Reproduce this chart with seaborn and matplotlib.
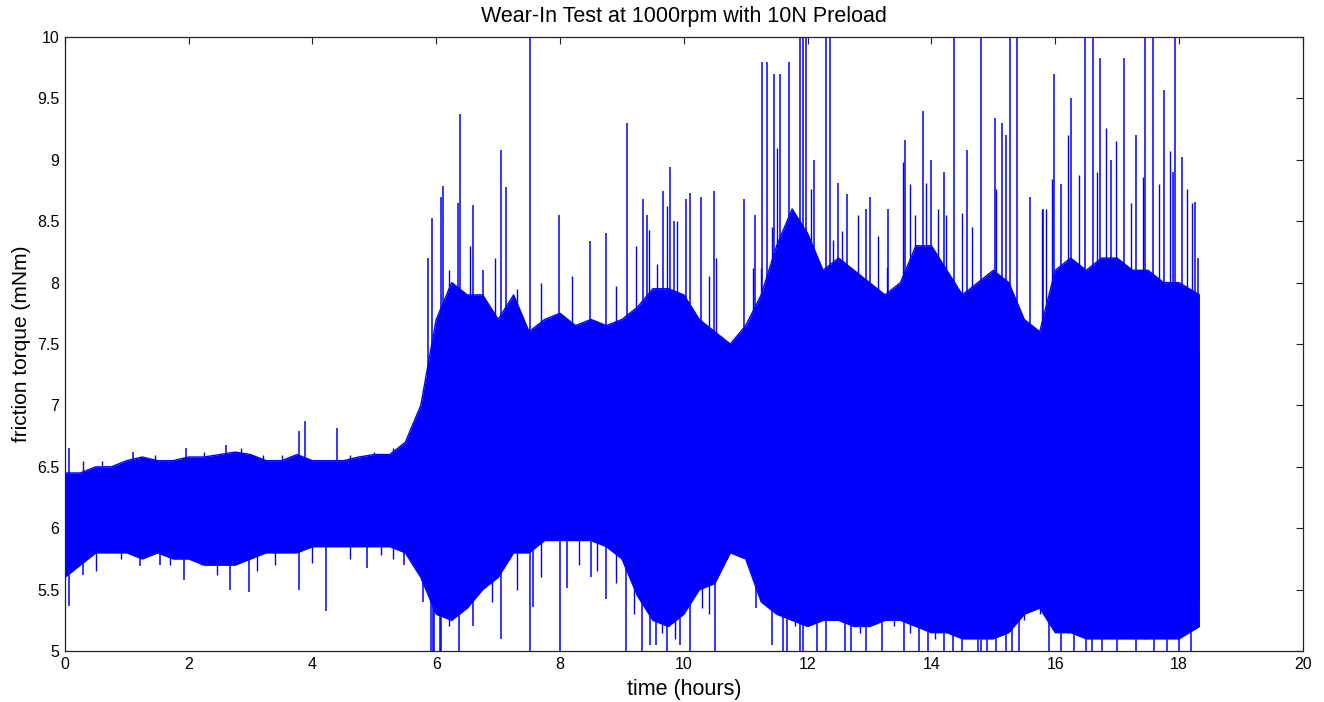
import numpy as np
import pandas as pd
import matplotlib
matplotlib.use("Agg")
import matplotlib.pyplot as plt
import seaborn as sns

# -------------------------------------------------------------
# data (friction torque, mNm)
# -------------------------------------------------------------
t_grid = [0.0, 0.25, 0.5, 0.75, 1.0, 1.25, 1.5, 1.75, 2.0, 2.25, 2.5, 2.75,
          3.0, 3.25, 3.5, 3.75, 4.0, 4.25, 4.5, 4.75, 5.0, 5.25, 5.5, 5.75,
          6.0, 6.25, 6.5, 6.75, 7.0, 7.25, 7.5, 7.75, 8.0, 8.25, 8.5, 8.75,
          9.0, 9.25, 9.5, 9.75, 10.0, 10.25, 10.5, 10.75, 11.0, 11.25, 11.5,
          11.75, 12.0, 12.25, 12.5, 12.75, 13.0, 13.25, 13.5, 13.75, 14.0,
          14.25, 14.5, 14.75, 15.0, 15.25, 15.5, 15.75, 16.0, 16.25, 16.5,
          16.75, 17.0, 17.25, 17.5, 17.75, 18.0, 18.33]

# solid core of the trace
core_hi = [6.30, 6.30, 6.35, 6.38, 6.40, 6.42, 6.42, 6.43, 6.45, 6.45, 6.47, 6.50,
           6.48, 6.42, 6.42, 6.42, 6.42, 6.42, 6.42, 6.45, 6.45, 6.45, 6.50, 6.75,
           7.20, 7.50, 7.60, 7.50, 7.20, 7.55, 7.25, 7.30, 7.40, 7.35, 7.35, 7.30,
           7.35, 7.40, 7.50, 7.55, 7.50, 7.30, 7.20, 7.20, 7.30, 7.50, 7.80,
           8.00, 7.90, 7.60, 7.70, 7.60, 7.50, 7.40, 7.40, 7.65, 7.70,
           7.60, 7.50, 7.50, 7.55, 7.50, 7.35, 7.30, 7.55, 7.60, 7.55,
           7.60, 7.60, 7.60, 7.55, 7.50, 7.50, 7.45]
core_lo = [5.75, 5.85, 5.90, 5.95, 5.95, 5.95, 5.95, 5.92, 5.90, 5.88, 5.85, 5.85,
           5.90, 5.95, 5.95, 5.95, 6.00, 6.00, 6.00, 6.00, 6.05, 6.05, 6.05, 5.90,
           5.55, 5.50, 5.60, 5.70, 5.85, 6.10, 6.10, 6.20, 6.25, 6.25, 6.20, 6.20,
           6.10, 5.85, 5.60, 5.50, 5.55, 5.80, 5.85, 6.05, 6.00, 5.75, 5.60,
           5.50, 5.50, 5.50, 5.50, 5.45, 5.45, 5.50, 5.50, 5.45, 5.40,
           5.40, 5.35, 5.35, 5.35, 5.40, 5.55, 5.60, 5.40, 5.40, 5.40,
           5.35, 5.35, 5.35, 5.35, 5.35, 5.35, 5.40]

# outer extent of the dense fuzz around the core
fuzz_hi = [6.45, 6.45, 6.50, 6.50, 6.55, 6.58, 6.55, 6.55, 6.58, 6.58, 6.60, 6.62,
           6.60, 6.55, 6.55, 6.60, 6.55, 6.55, 6.55, 6.58, 6.60, 6.60, 6.70, 7.00,
           7.70, 8.00, 7.90, 7.90, 7.70, 7.90, 7.60, 7.70, 7.75, 7.65, 7.70, 7.65,
           7.70, 7.80, 7.95, 7.95, 7.90, 7.70, 7.60, 7.50, 7.65, 7.90, 8.30,
           8.60, 8.40, 8.10, 8.20, 8.10, 8.00, 7.90, 8.00, 8.30, 8.30,
           8.10, 7.90, 8.00, 8.10, 8.00, 7.70, 7.60, 8.10, 8.20, 8.10,
           8.20, 8.20, 8.10, 8.10, 8.00, 8.00, 7.90]
fuzz_lo = [5.60, 5.70, 5.80, 5.80, 5.80, 5.75, 5.80, 5.75, 5.75, 5.70, 5.70, 5.70,
           5.75, 5.80, 5.80, 5.80, 5.85, 5.85, 5.85, 5.85, 5.85, 5.85, 5.80, 5.60,
           5.30, 5.25, 5.35, 5.50, 5.60, 5.80, 5.80, 5.90, 5.90, 5.90, 5.90, 5.85,
           5.75, 5.45, 5.25, 5.20, 5.30, 5.50, 5.55, 5.80, 5.75, 5.40, 5.30,
           5.25, 5.20, 5.25, 5.25, 5.20, 5.20, 5.25, 5.25, 5.20, 5.15,
           5.15, 5.10, 5.10, 5.10, 5.15, 5.30, 5.35, 5.15, 5.15, 5.10,
           5.10, 5.10, 5.10, 5.10, 5.10, 5.10, 5.20]

# tall isolated peaks above the band
up_t = [0.07, 1.10, 1.95, 2.60, 3.78, 3.88, 4.39, 5.60, 5.68, 5.86, 5.93, 6.08,
        6.11, 6.35, 6.39, 6.60, 6.75, 7.05, 7.12, 7.52, 7.99, 8.48, 8.74, 9.08,
        9.34, 9.40, 9.66, 9.77, 9.84, 10.04, 10.10, 10.27, 10.49, 10.97, 11.15,
        11.27, 11.34, 11.46, 11.55, 11.70, 11.88, 11.93, 11.98, 12.10, 12.29,
        12.36, 12.49, 12.63, 12.94, 13.00, 13.30, 13.57, 13.86, 14.00, 14.20,
        14.36, 14.58, 14.80, 15.02, 15.14, 15.21, 15.27, 15.39, 15.60, 15.80,
        15.98, 16.10, 16.25, 16.48, 16.61, 16.73, 16.90, 17.11, 17.30, 17.45,
        17.58, 17.75, 17.90, 17.93, 18.05, 18.26, 18.30]
up_v = [6.65, 6.62, 6.65, 6.68, 6.79, 6.87, 6.82, 6.72, 6.85, 8.20, 8.53, 8.70,
        8.79, 8.65, 9.37, 8.63, 8.10, 9.08, 8.78, 10.0, 8.55, 8.34, 8.40, 9.30,
        8.68, 8.55, 8.75, 8.94, 8.50, 8.68, 8.73, 8.70, 8.75, 8.68, 8.55,
        9.80, 9.80, 9.70, 9.70, 9.80, 10.0, 10.0, 10.0, 9.00, 10.0,
        10.0, 8.81, 8.72, 8.60, 8.70, 8.60, 9.16, 9.40, 9.00, 8.90,
        10.0, 9.08, 10.0, 9.34, 9.30, 9.20, 10.0, 10.0, 8.70, 8.60,
        9.70, 8.80, 9.50, 10.0, 10.0, 9.83, 9.00, 9.83, 9.20, 10.0,
        10.0, 9.57, 8.90, 10.0, 9.02, 8.66, 8.20]

# smaller peaks that roughen the top edge
mid_up_t = [0.30, 0.60, 1.45, 2.25, 2.85, 3.20, 3.50, 4.60, 5.00, 5.30,
            6.20, 6.55, 6.95, 7.30, 7.70, 8.20, 8.91, 9.22, 9.44, 9.57, 9.73,
            9.89, 10.41, 10.52, 11.12, 11.24, 11.43, 11.51, 12.05, 12.14,
            12.41, 12.55, 12.81, 13.13, 13.29, 13.54, 13.65, 13.73, 13.92,
            14.11, 14.24, 14.50, 14.65, 15.04, 15.79, 15.85, 15.95, 16.20,
            16.39, 16.67, 16.82, 16.98, 17.22, 17.41, 17.68, 17.85, 18.13, 18.21]
mid_up_v = [6.55, 6.55, 6.60, 6.62, 6.65, 6.60, 6.60, 6.60, 6.62, 6.65,
            8.10, 8.30, 8.20, 7.95, 8.00, 8.05, 7.97, 8.30, 8.43, 8.15, 8.62,
            8.50, 8.05, 8.20, 8.12, 8.12, 8.45, 9.10, 8.76, 8.18,
            8.35, 8.42, 8.55, 8.38, 8.13, 8.98, 8.80, 8.55, 8.81,
            8.60, 8.55, 8.57, 8.45, 8.76, 8.59, 8.60, 8.84, 9.20,
            8.88, 8.90, 9.26, 9.15, 8.65, 8.86, 8.80, 9.07, 8.76, 8.65]

# deep isolated dips below the band
dn_t = [0.00, 0.07, 0.30, 1.22, 1.54, 1.92, 2.66, 2.98, 3.79, 4.22, 4.88, 5.48,
        5.79, 5.92, 5.95, 5.97, 6.06, 6.08, 6.37, 6.60, 7.04, 7.52, 7.57, 8.00,
        8.12, 8.50, 8.74, 9.07, 9.33, 9.45, 9.55, 9.72, 9.93, 10.10, 10.50,
        10.68, 11.16, 11.42, 11.60, 11.66, 11.87, 11.93, 12.15, 12.29, 12.60,
        12.70, 12.95, 13.20, 13.55, 13.80, 13.95, 14.20, 14.35, 14.50, 14.75,
        14.80, 14.90, 15.05, 15.20, 15.30, 15.42, 15.66, 15.90, 16.10, 16.30,
        16.50, 16.60, 16.75, 17.00, 17.30, 17.60, 17.80, 18.00, 18.20]
dn_v = [5.45, 5.37, 5.62, 5.69, 5.70, 5.58, 5.50, 5.48, 5.50, 5.33, 5.68, 5.70,
        5.40, 5.00, 5.00, 5.00, 5.00, 5.00, 5.00, 5.20, 5.10, 5.00, 5.36, 5.00,
        5.51, 5.60, 5.42, 5.00, 5.00, 5.05, 5.05, 5.00, 5.05, 5.00, 5.00,
        5.82, 5.35, 5.05, 5.00, 5.00, 5.00, 5.00, 5.00, 5.00, 5.00,
        5.00, 5.00, 5.00, 5.00, 5.00, 5.00, 5.00, 5.00, 5.00, 5.00,
        5.00, 5.00, 5.00, 5.00, 5.00, 5.00, 5.35, 5.00, 5.00, 5.00,
        5.00, 5.00, 5.00, 5.00, 5.00, 5.00, 5.00, 5.00, 5.00]

# smaller dips that roughen the bottom edge
mid_dn_t = [0.50, 0.90, 1.70, 2.20, 2.45, 3.10, 3.40, 4.00, 4.60, 5.10, 5.30,
            6.20, 6.50, 6.90, 7.30, 7.70, 8.30, 8.60, 8.90, 9.20, 9.65, 9.85,
            10.30, 10.40, 11.80, 12.05, 12.40, 12.85, 13.10, 13.40, 13.65,
            14.05, 14.60, 15.50, 15.75, 16.20, 16.40, 16.90, 17.15, 17.45,
            17.70, 17.95, 18.10, 18.28]
mid_dn_v = [5.65, 5.75, 5.70, 5.70, 5.62, 5.65, 5.70, 5.72, 5.75, 5.78, 5.75,
            5.20, 5.35, 5.40, 5.50, 5.60, 5.70, 5.65, 5.55, 5.30, 5.15, 5.10,
            5.35, 5.30, 5.20, 5.25, 5.30, 5.15, 5.25, 5.20, 5.15,
            5.10, 5.20, 5.25, 5.30, 5.15, 5.20, 5.15, 5.20, 5.10,
            5.20, 5.15, 5.20, 5.25]

x_ticks = [0, 2, 4, 6, 8, 10, 12, 14, 16, 18, 20]
y_ticks = [5, 5.5, 6, 6.5, 7, 7.5, 8, 8.5, 9, 9.5, 10]
y_tick_labels = ["5", "5.5", "6", "6.5", "7", "7.5", "8", "8.5", "9", "9.5", "10"]

# -------------------------------------------------------------
# plot
# -------------------------------------------------------------
sns.set_style("white")
plt.rcParams["font.family"] = ["Liberation Sans", "DejaVu Sans"]
plt.rcParams["text.color"] = "black"
plt.rcParams["axes.labelcolor"] = "black"

blue = "#0000ff"
df = pd.DataFrame({"t": t_grid, "core_hi": core_hi, "core_lo": core_lo,
                   "fuzz_hi": fuzz_hi, "fuzz_lo": fuzz_lo})

fig = plt.figure(figsize=(13.24, 7.02), dpi=100)
ax = fig.add_axes([0.049, 0.0726, 0.935, 0.8747])

# fuzz band and solid core (same pure blue as the trace)
ax.fill_between(df["t"], df["fuzz_lo"], df["fuzz_hi"], color=blue, lw=0)
ax.fill_between(df["t"], df["core_lo"], df["core_hi"], color=blue, lw=0)
sns.lineplot(data=df, x="t", y="fuzz_hi", color=blue, lw=1.0, ax=ax)
sns.lineplot(data=df, x="t", y="fuzz_lo", color=blue, lw=1.0, ax=ax)

# spikes start inside the band
ax.vlines(up_t, 6.25, up_v, color=blue, lw=1.1)
ax.vlines(dn_t, dn_v, 6.25, color=blue, lw=1.1)
ax.vlines(mid_up_t, 6.25, mid_up_v, color=blue, lw=1.0)
ax.vlines(mid_dn_t, mid_dn_v, 6.25, color=blue, lw=1.0)

ax.set_xlim(0, 20)
ax.set_ylim(5, 10)
ax.set_xticks(x_ticks)
ax.set_yticks(y_ticks)
ax.set_yticklabels(y_tick_labels)
ax.tick_params(direction="in", length=5, width=0.8, top=True, right=True,
               labelsize=11.5, colors="#222222", labelcolor="black", pad=4)
for sp in ax.spines.values():
    sp.set_visible(True)
    sp.set_color("#222222")
    sp.set_linewidth(0.9)

ax.set_title("Wear-In Test at 1000rpm with 10N Preload", fontsize=15.5, pad=11)
ax.set_xlabel("time (hours)", fontsize=15.5, labelpad=5)
ax.set_ylabel("friction torque (mNm)", fontsize=15, labelpad=4)

fig.savefig("out.png", dpi=100)
